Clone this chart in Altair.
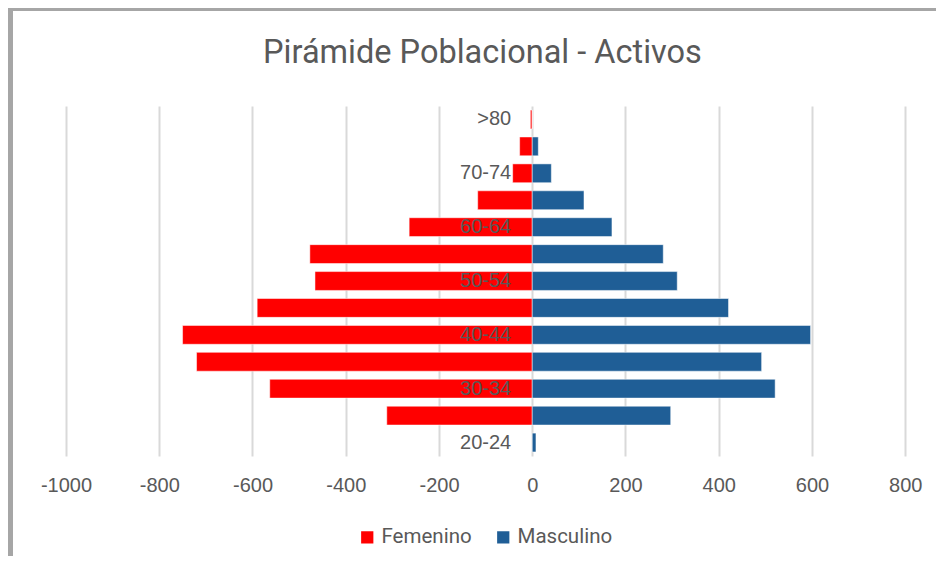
import altair as alt
import pandas as pd

ages = ["20-24", "25-29", "30-34", "35-39", "40-44", "45-49", "50-54",
        "55-59", "60-64", "65-69", "70-74", "75-79", ">80"]
femenino = [0, -312, -563, -720, -750, -590, -466, -477, -264, -117, -42, -27, -4]
masculino = [8, 297, 521, 492, 597, 421, 311, 281, 171, 111, 41, 13, 0]
shown_labels = [">80", "70-74", "60-64", "50-54", "40-44", "30-34", "20-24"]
x_ticks = [-1000, -800, -600, -400, -200, 0, 200, 400, 600, 800]
series = ["Femenino", "Masculino"]
colors = ["#FF0000", "#1F5E96"]
title_text = "Pirámide Poblacional - Activos"

rows = []
for a, f, m in zip(ages, femenino, masculino):
    rows.append({"edad": a, "sexo": "Femenino", "valor": f})
    rows.append({"edad": a, "sexo": "Masculino", "valor": m})
df = pd.DataFrame(rows)
lab_df = pd.DataFrame({"edad": shown_labels, "zero": [0] * len(shown_labels)})

order = list(reversed(ages))
yscale = alt.Scale(domain=order, paddingInner=0.3, paddingOuter=0.15)
xscale = alt.Scale(domain=[-1000, 866], nice=False, zero=False)

GRAY = "#595959"
TXT_FONT = "Liberation Sans"
TITLE_FONT = "Roboto"

bars = alt.Chart(df).mark_bar(stroke="white", strokeWidth=0.5).encode(
    y=alt.Y("edad:N", scale=yscale, sort=order, axis=None),
    x=alt.X("valor:Q", scale=xscale,
            axis=alt.Axis(values=x_ticks, title=None, grid=True, domain=False,
                          ticks=False, labelFontSize=20, labelFont=TXT_FONT,
                          labelColor=GRAY, labelPadding=19, labelFlush=False,
                          labelOverlap=False, labelBound=False,
                          labelExpr="datum.value + ''",
                          gridColor="#D9D9D9", gridWidth=2)),
    x2=alt.datum(0),
    color=alt.Color("sexo:N", scale=alt.Scale(domain=series, range=colors),
                    legend=alt.Legend(title=None, orient="none", direction="horizontal",
                                      legendX=291, legendY=421,
                                      symbolType="square", symbolSize=150,
                                      symbolStrokeWidth=0,
                                      labelFont=TITLE_FONT, labelFontSize=20.5,
                                      labelColor=GRAY, labelOffset=4,
                                      columnPadding=21)),
)

labels = alt.Chart(lab_df).mark_text(align="right", baseline="middle", dx=-21,
                                     fontSize=20, font=TXT_FONT, color=GRAY).encode(
    y=alt.Y("edad:N", scale=yscale, sort=order),
    x=alt.X("zero:Q", scale=xscale),
    text="edad:N",
)

one = pd.DataFrame({"t": [title_text]})
title = alt.Chart(one).mark_text(align="center", baseline="alphabetic", fontSize=32.5,
                                 font=TITLE_FONT, color=GRAY).encode(
    x=alt.value(416.5), y=alt.value(-43), text="t:N")

left_border = alt.Chart(one).mark_rule(color="#A6A6A6", strokeWidth=6).encode(
    x=alt.value(-56), y=alt.value(-100), y2=alt.value(480))
top_border = alt.Chart(one).mark_rule(color="#A6A6A6", strokeWidth=6).encode(
    x=alt.value(-60), x2=alt.value(900), y=alt.value(-98))

chart = alt.layer(bars, labels, title, left_border, top_border).properties(
    width=870, height=350,
    padding={"left": 58, "top": 98, "right": 0, "bottom": 100},
    autosize=alt.AutoSizeParams(type="none"),
).configure_view(stroke=None)

chart.save("out.html", embed_options={"renderer": "svg", "actions": False})
